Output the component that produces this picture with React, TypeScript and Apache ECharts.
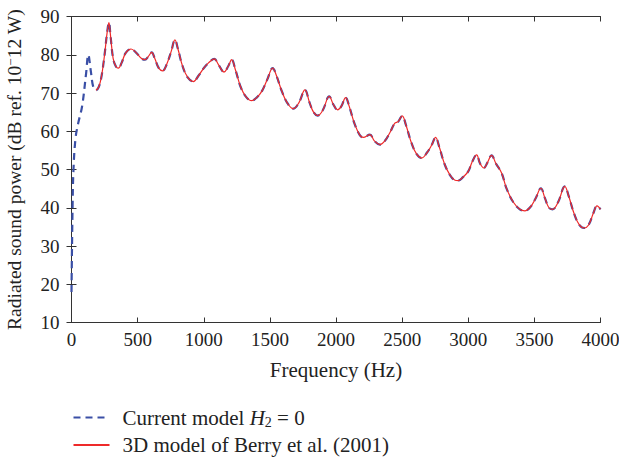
import React, { useEffect, useRef } from "react";
import * as echarts from "echarts";

const freqHz = [
  0, 8, 15, 30, 50, 80, 110, 127, 145, 165, 185, 205, 225, 250, 270, 283, 295, 315, 335, 354,
  380, 410, 450, 490, 530, 556, 580, 606, 630, 660, 689, 720, 755, 782, 805, 840, 880, 921, 960, 1000,
  1034, 1080, 1110, 1153, 1185, 1211, 1240, 1280, 1320, 1362, 1400, 1440, 1480, 1521, 1550, 1590, 1630, 1677, 1720, 1765,
  1800, 1830, 1861, 1900, 1949, 1980, 2012, 2040, 2073, 2100, 2140, 2180, 2206, 2256, 2290, 2332, 2370, 2410, 2445, 2470,
  2500, 2530, 2570, 2610, 2647, 2690, 2725, 2753, 2780, 2820, 2861, 2900, 2924, 2960, 3000, 3030, 3063, 3090, 3118, 3145,
  3176, 3210, 3252, 3290, 3340, 3390, 3428, 3470, 3510, 3549, 3580, 3610, 3637, 3680, 3730, 3760, 3800, 3840, 3876, 3910,
  3945, 3974, 4000,
];

const currentModel = [
  18, 40, 50, 58, 62, 66.5, 75, 80, 76, 71.5, 70.7, 71.5, 74, 80, 86, 88.4, 85, 79, 77, 76.5,
  78, 80.5, 81.5, 80.5, 79, 78.7, 79.5, 80.6, 79, 76.5, 75.8, 77.5, 81, 83.9, 81.5, 77, 74, 73, 74.5, 76.5,
  77.8, 78.9, 77.5, 75.5, 77, 78.7, 76, 71.5, 69, 68, 68.8, 70.5, 73.5, 76.5, 74.5, 70.5, 67.5, 65.9, 67.5, 70.8,
  67.5, 65, 64.1, 65.5, 69.1, 67, 65.6, 66.5, 68.8, 66.5, 62, 59, 58.4, 59.1, 57.5, 56.5, 57.5, 59.8, 62.1, 62.5,
  64, 61.5, 57, 54, 53, 54.5, 56.5, 58.4, 56, 51.5, 48.6, 47.2, 47.1, 48, 49.5, 52, 53.8, 51.5, 50.4, 51.8,
  53.7, 51.5, 49.1, 45, 41.5, 39.6, 39.2, 40.2, 42.5, 45.1, 42.5, 40, 39.6, 41.5, 45.6, 43, 38.5, 35.5, 34.7, 35.5,
  38.5, 40.5, 39.6,
];

const berryModel = [
  null, null, null, null, null, null, null, null, null, null, 70.7, 71.5, 74, 80, 86, 88.4, 85, 79, 77, 76.5,
  78, 80.5, 81.5, 80.5, 79, 78.7, 79.5, 80.6, 79, 76.5, 75.8, 77.5, 81, 83.9, 81.5, 77, 74, 73, 74.5, 76.5,
  77.8, 78.9, 77.5, 75.5, 77, 78.7, 76, 71.5, 69, 68, 68.8, 70.5, 73.5, 76.5, 74.5, 70.5, 67.5, 65.9, 67.5, 70.8,
  67.5, 65, 64.1, 65.5, 69.1, 67, 65.6, 66.5, 68.8, 66.5, 62, 59, 58.4, 59.1, 57.5, 56.5, 57.5, 59.8, 62.1, 62.5,
  64, 61.5, 57, 54, 53, 54.5, 56.5, 58.4, 56, 51.5, 48.6, 47.2, 47.1, 48, 49.5, 52, 53.8, 51.5, 50.4, 51.8,
  53.7, 51.5, 49.1, 45, 41.5, 39.6, 39.2, 40.2, 42.5, 45.1, 42.5, 40, 39.6, 41.5, 45.6, 43, 38.5, 35.5, 34.7, 35.5,
  38.5, 40.5, 39.6,
];

const seriesNames = ["Current model H2 = 0", "3D model of Berry et al. (2001)"];
const xAxisName = "Frequency (Hz)";

const FONT = "'Liberation Serif', 'Times New Roman', serif";
const AXIS_COLOR = "#333";
const TEXT_COLOR = "#222";

export default function App() {
  const ref = useRef<HTMLDivElement>(null);
  useEffect(() => {
    if (!ref.current) return;
    const chart = echarts.init(ref.current, null, { renderer: "svg" });
    const toPairs = (vals: (number | null)[]) =>
      freqHz.map((f, i) => [f, vals[i]]).filter((p) => p[1] !== null);

    const axisCommon = {
      axisLine: { show: true, lineStyle: { color: AXIS_COLOR, width: 1 } },
      axisTick: { show: true, inside: true, length: 5, lineStyle: { color: AXIS_COLOR } },
      splitLine: { show: false },
    };

    const legendText = {
      color: TEXT_COLOR,
      fontFamily: FONT,
      fontSize: 21,
      lineHeight: 24,
      padding: [0, 0, 0, 8],
      rich: {
        i: { fontFamily: FONT, fontSize: 21, fontStyle: "italic", color: TEXT_COLOR, lineHeight: 24 },
        sub: { fontFamily: FONT, fontSize: 14, color: TEXT_COLOR, verticalAlign: "bottom", lineHeight: 16, padding: [8, 0, 0, 0] },
      },
    };
    const legendBase = {
      orient: "vertical",
      left: 72.5,
      padding: 0,
      itemWidth: 36,
      itemHeight: 14,
      itemStyle: { opacity: 0, borderWidth: 0 },
      formatter: (name: string) =>
        name === seriesNames[0] ? "Current model {i|H}{sub|2} = 0" : name,
      textStyle: legendText,
    };

    chart.setOption({
      animation: false,
      backgroundColor: "#fff",
      grid: { left: 71.5, right: 18.5, top: 16.5, bottom: 137.5, containLabel: false, outerBoundsMode: "none" },
      xAxis: [
        {
          type: "value",
          position: "bottom",
          min: 0,
          max: 4000,
          interval: 500,
          ...axisCommon,
          axisLabel: { color: TEXT_COLOR, fontFamily: FONT, fontSize: 19, margin: 7, formatter: (v: number) => String(v) },
          name: xAxisName,
          nameLocation: "middle",
          nameGap: 36.5,
          nameTextStyle: { color: TEXT_COLOR, fontFamily: FONT, fontSize: 21 },
        },
        {
          type: "value",
          position: "top",
          min: 0,
          max: 4000,
          interval: 500,
          ...axisCommon,
          axisLabel: { show: false },
        },
      ],
      yAxis: [
        {
          type: "value",
          position: "left",
          min: 10,
          max: 90,
          interval: 10,
          ...axisCommon,
          axisLabel: { color: TEXT_COLOR, fontFamily: FONT, fontSize: 19, margin: 12 },
          name: "Radiated sound power (dB ref. 10{sup|−}12 W)",
          nameLocation: "middle",
          nameGap: 46,
          nameTextStyle: {
            color: TEXT_COLOR,
            fontFamily: FONT,
            fontSize: 19.5,
            lineHeight: 22,
            rich: {
              sup: { fontFamily: FONT, fontSize: 13, color: TEXT_COLOR, verticalAlign: "top", lineHeight: 22, padding: [0, 0, 6, 0] },
            },
          },
        },
        {
          type: "value",
          position: "right",
          min: 10,
          max: 90,
          interval: 10,
          ...axisCommon,
          axisLabel: { show: false },
        },
      ],
      legend: [
        { ...legendBase, top: 405.5, data: [seriesNames[0]] },
        { ...legendBase, top: 433, data: [seriesNames[1]] },
      ],
      series: [
        {
          name: seriesNames[0],
          type: "line",
          xAxisIndex: 0,
          yAxisIndex: 0,
          data: toPairs(currentModel),
          symbol: "none",
          smooth: 0.4,
          lineStyle: { color: "#3a4fa6", width: 2.2, type: [7, 5] },
          itemStyle: { color: "#3a4fa6" },
          z: 2,
        },
        {
          name: seriesNames[1],
          type: "line",
          xAxisIndex: 0,
          yAxisIndex: 0,
          data: toPairs(berryModel),
          symbol: "none",
          smooth: 0.4,
          lineStyle: { color: "#ee2a2a", width: 1.2 },
          itemStyle: { color: "#ee2a2a" },
          z: 3,
        },
      ],
    });
    return () => chart.dispose();
  }, []);
  return <div ref={ref} style={{ width: 619, height: 460, position: "absolute", left: 0, top: 0 }} />;
}
